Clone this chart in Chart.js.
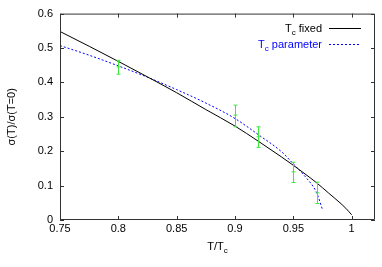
<!DOCTYPE html>
<html>
<head>
<meta charset="utf-8">
<script src="https://cdn.jsdelivr.net/npm/chart.js@4.4.1/dist/chart.umd.min.js"></script>
<style>
  html, body { margin: 0; padding: 0; background: #fff; }
</style>
</head>
<body>
<canvas id="chart" width="382" height="267"></canvas>
<script>
const xTicks = [0.75, 0.8, 0.85, 0.9, 0.95, 1]
const yTicks = [0, 0.1, 0.2, 0.3, 0.4, 0.5, 0.6]

// T_c fixed (solid black)
const fixedT = [0.75, 0.775, 0.8, 0.825, 0.85, 0.875, 0.9, 0.92, 0.94, 0.95, 0.96, 0.97, 0.98, 0.99, 0.995, 1.0]
const fixedS = [0.548, 0.505, 0.461, 0.416, 0.370, 0.321, 0.273, 0.229, 0.183, 0.159, 0.134, 0.108, 0.079, 0.050, 0.034, 0.015]

// T_c parameter (dashed blue)
const paramT = [0.75, 0.775, 0.8, 0.825, 0.85, 0.875, 0.9, 0.92, 0.94, 0.95, 0.96, 0.97, 0.975]
const paramS = [0.507, 0.479, 0.448, 0.415, 0.379, 0.340, 0.295, 0.248, 0.198, 0.163, 0.127, 0.079, 0.030]

// measured points with error bars (green)
const errT  = [0.8, 0.9, 0.92, 0.95, 0.97]
const errS  = [0.445, 0.305, 0.242, 0.140, 0.079]
const errLo = [0.424, 0.271, 0.211, 0.109, 0.048]
const errHi = [0.464, 0.334, 0.271, 0.168, 0.110]

const FONT = "Liberation Sans"
const fmt = (v) => String(parseFloat(v.toFixed(2)))

const pts = (xs, ys) => xs.map((x, i) => ({ x: x, y: ys[i] }))

// text with a subscript "c" after the leading T
function subText(ctx, pieces, x, base, align) {
  const widths = pieces.map(p => {
    ctx.font = (p.sub ? "8px " : "11px ") + FONT
    return ctx.measureText(p.t).width
  })
  const total = widths.reduce((a, b) => a + b, 0)
  let cx = align === "right" ? x - total : align === "center" ? x - total / 2 : x
  ctx.textAlign = "left"
  ctx.textBaseline = "alphabetic"
  pieces.forEach((p, i) => {
    ctx.font = (p.sub ? "8px " : "11px ") + FONT
    ctx.fillText(p.t, cx, base + (p.sub ? 3 : 0))
    cx += widths[i]
  })
}

const frame = {
  id: "frame",
  afterDatasetsDraw(chart) {
    const { ctx, chartArea: a, scales } = chart
    const xs = scales.x, ys = scales.y
    ctx.save()

    // error bars
    ctx.strokeStyle = "#3ee83e"
    ctx.lineWidth = 1
    errT.forEach((t, i) => {
      const px = Math.round(xs.getPixelForValue(t)) + 0.5
      const top = ys.getPixelForValue(errHi[i])
      const bot = ys.getPixelForValue(errLo[i])
      const mid = ys.getPixelForValue(errS[i])
      ctx.beginPath()
      ctx.moveTo(px, top); ctx.lineTo(px, bot)
      ctx.moveTo(px - 2, top); ctx.lineTo(px + 2, top)
      ctx.moveTo(px - 2, bot); ctx.lineTo(px + 2, bot)
      ctx.moveTo(px - 2, mid); ctx.lineTo(px + 2, mid)
      ctx.stroke()
    })

    // border + inward ticks on all sides
    ctx.strokeStyle = "#333"
    ctx.beginPath()
    ctx.rect(a.left + 0.5, a.top + 0.5, a.right - a.left - 1, a.bottom - a.top - 1)
    xTicks.forEach(v => {
      const px = Math.round(xs.getPixelForValue(v)) + 0.5
      ctx.moveTo(px, a.bottom); ctx.lineTo(px, a.bottom - 4)
      ctx.moveTo(px, a.top); ctx.lineTo(px, a.top + 4)
    })
    yTicks.forEach(v => {
      const py = Math.round(ys.getPixelForValue(v)) + 0.5
      ctx.moveTo(a.left, py); ctx.lineTo(a.left + 4, py)
      ctx.moveTo(a.right, py); ctx.lineTo(a.right - 4, py)
    })
    ctx.stroke()

    // legend
    ctx.fillStyle = "#000"
    subText(ctx, [{ t: "T" }, { t: "c", sub: true }, { t: " fixed" }], 322, 32, "right")
    ctx.fillStyle = "#0000ff"
    subText(ctx, [{ t: "T" }, { t: "c", sub: true }, { t: " parameter" }], 322, 48, "right")
    ctx.beginPath()
    ctx.strokeStyle = "#000"
    ctx.moveTo(329, 28.5); ctx.lineTo(361, 28.5)
    ctx.stroke()
    ctx.beginPath()
    ctx.strokeStyle = "#0000ff"
    ctx.setLineDash([2, 2])
    ctx.moveTo(329, 44.5); ctx.lineTo(361, 44.5)
    ctx.stroke()
    ctx.setLineDash([])

    // x axis title
    ctx.fillStyle = "#000"
    subText(ctx, [{ t: "T/T" }, { t: "c", sub: true }], (a.left + a.right) / 2, 250, "center")
    ctx.restore()
  }
}

new Chart(document.getElementById("chart"), {
  type: "line",
  data: {
    datasets: [
      {
        label: "Tc fixed",
        data: pts(fixedT, fixedS),
        borderColor: "#000",
        borderWidth: 1,
        pointRadius: 0,
        cubicInterpolationMode: "monotone"
      },
      {
        label: "Tc parameter",
        data: pts(paramT, paramS),
        borderColor: "#0000ff",
        borderWidth: 1,
        borderDash: [2, 2],
        pointRadius: 0,
        cubicInterpolationMode: "monotone"
      }
    ]
  },
  options: {
    responsive: false,
    devicePixelRatio: 1,
    animation: false,
    layout: { padding: { left: 0, right: 7, top: 12, bottom: 0 } },
    plugins: { legend: { display: false }, tooltip: { enabled: false } },
    scales: {
      x: {
        type: "linear",
        min: 0.75,
        max: 1.02,
        grid: { display: false, drawTicks: false },
        border: { display: false },
        afterBuildTicks: (s) => { s.ticks = xTicks.map(v => ({ value: v })) },
        afterFit: (s) => { s.height = 47 },
        ticks: {
          padding: 2,
          color: "#000",
          font: { family: FONT, size: 11 },
          maxRotation: 0,
          callback: (v) => fmt(v)
        }
      },
      y: {
        min: 0,
        max: 0.6,
        grid: { display: false, drawTicks: false },
        border: { display: false },
        afterBuildTicks: (s) => { s.ticks = yTicks.map(v => ({ value: v })) },
        afterFit: (s) => { s.width = 60 },
        ticks: {
          padding: 7,
          color: "#000",
          font: { family: FONT, size: 11 },
          callback: (v) => fmt(v)
        },
        title: {
          display: true,
          text: "σ(T)/σ(T=0)",
          color: "#000",
          font: { family: FONT, size: 11 },
          padding: { top: 5, bottom: 0 }
        }
      }
    }
  },
  plugins: [frame]
})
</script>
</body>
</html>
